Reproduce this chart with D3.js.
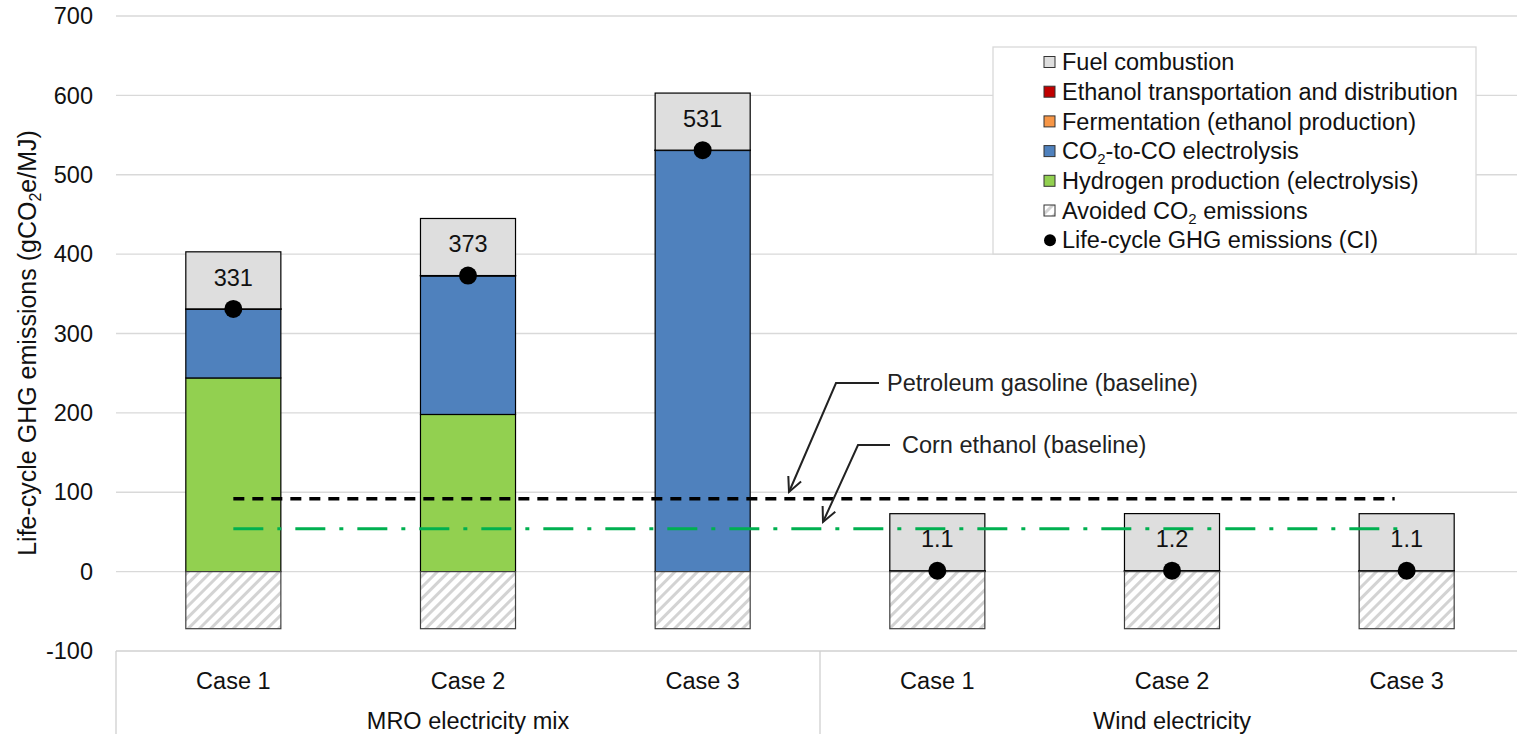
<!DOCTYPE html>
<html><head><meta charset="utf-8">
<script src="https://cdn.jsdelivr.net/npm/d3@7"></script>
<style>body{margin:0;background:#fff}svg{display:block;font-family:"Liberation Sans",Arial,sans-serif}</style>
</head><body><svg id="c" width="1517" height="734"></svg>
<script>
const categories = ["Case 1","Case 2","Case 3","Case 1","Case 2","Case 3"];
const groups = ["MRO electricity mix","Wind electricity"];
const hydrogen = [244, 198, 0, 0.4, 0.5, 0.4];
const co2co = [86.6, 174.6, 530.6, 0.3, 0.3, 0.3];
const fermentation = [0.2, 0.2, 0.2, 0.2, 0.2, 0.2];
const transport = [0.2, 0.2, 0.2, 0.2, 0.2, 0.2];
const fuel = [71.9, 71.9, 71.9, 71.9, 71.9, 71.9];
const avoided = [-71.9, -71.9, -71.9, -71.9, -71.9, -71.9];
const ci = [331, 373, 531, 1.1, 1.2, 1.1];
const ciLabels = ["331","373","531","1.1","1.2","1.1"];
const gasolineBaseline = 91.7;
const cornBaseline = 54;
const yTicks = [-100,0,100,200,300,400,500,600,700];
const seriesNames = ["Fuel combustion","Ethanol transportation and distribution","Fermentation (ethanol production)","CO2-to-CO electrolysis","Hydrogen production (electrolysis)","Avoided CO2 emissions","Life-cycle GHG emissions (CI)"];

const FS = 23.5;
const svg = d3.select("#c");
const defs = svg.append("defs");
const pat = defs.append("pattern").attr("id","hatch").attr("patternUnits","userSpaceOnUse")
  .attr("width",8).attr("height",8).attr("patternTransform","rotate(45)");
pat.append("rect").attr("width",8).attr("height",8).attr("fill","#fff");
pat.append("rect").attr("width",3).attr("height",8).attr("fill","#d3d3d3");

const left = 116, right = 1524;
const x = d3.scaleBand().domain(d3.range(categories.length)).range([left, right]).paddingInner(0.595).paddingOuter(0.2975);
const y = d3.scaleLinear().domain([-100, 700]).range([651, 16]);

// gridlines
svg.append("g").selectAll("line").data(yTicks.filter(t=>t>-100)).join("line")
  .attr("x1", left).attr("x2", 1517).attr("y1", d=>y(d)).attr("y2", d=>y(d))
  .attr("stroke","#d9d9d9").attr("stroke-width",1.3);

// y axis labels
svg.append("g").selectAll("text").data(yTicks).join("text")
  .attr("x", 93).attr("y", d=>y(d)).attr("dy","0.35em").attr("text-anchor","end")
  .attr("font-size",FS).attr("fill","#111").text(d=>d);

// y title
const yt = svg.append("text").attr("transform","translate(36,343) rotate(-90)")
  .attr("text-anchor","middle").attr("font-size",25).attr("fill","#111");
yt.append("tspan").text("Life-cycle GHG emissions (gCO");
yt.append("tspan").attr("font-size",16).attr("dy",5).text("2");
yt.append("tspan").attr("dy",-5).text("e/MJ)");

// category axis
const ax = svg.append("g").attr("stroke","#d0d0d0").attr("stroke-width",1.3);
ax.append("line").attr("x1",left).attr("x2",1517).attr("y1",y(-100)).attr("y2",y(-100));
[0,3].forEach(i=>{
  const xx = i===0 ? left : x(i) - x.step()*x.paddingInner()/2;
  ax.append("line").attr("x1",xx).attr("x2",xx).attr("y1",y(-100)).attr("y2",734);
});
svg.append("g").selectAll("text").data(categories).join("text")
  .attr("x",(d,i)=>x(i)+x.bandwidth()/2).attr("y",689).attr("text-anchor","middle")
  .attr("font-size",FS).attr("fill","#111").text(d=>d);
svg.append("g").selectAll("text").data(groups).join("text")
  .attr("x",(d,i)=>(x(i*3)+x(i*3+2)+x.bandwidth())/2).attr("y",729).attr("text-anchor","middle")
  .attr("font-size",FS).attr("fill","#111").text(d=>d);

// stacked bars
const stackDefs = [
  {vals: hydrogen, fill:"#92d050"},
  {vals: co2co, fill:"#4f81bd"},
  {vals: fermentation, fill:"#f79646"},
  {vals: transport, fill:"#c00000"},
  {vals: fuel, fill:"#dedede"}
];
const bars = svg.append("g");
categories.forEach((c,i)=>{
  let base = 0;
  stackDefs.forEach(s=>{
    const v = s.vals[i];
    if (v > 0) {
      bars.append("rect").attr("x",x(i)).attr("width",x.bandwidth())
        .attr("y",y(base+v)).attr("height",y(base)-y(base+v))
        .attr("fill",s.fill).attr("stroke","#000").attr("stroke-width",1.2);
    }
    base += v;
  });
  bars.append("rect").attr("x",x(i)).attr("width",x.bandwidth())
    .attr("y",y(0)).attr("height",y(avoided[i])-y(0))
    .attr("fill","url(#hatch)").attr("stroke","#404040").attr("stroke-width",1.2);
});

// baselines
svg.append("line").attr("x1",x(0)+x.bandwidth()/2).attr("x2",x(5)+x.bandwidth()/2-12)
  .attr("y1",y(gasolineBaseline)).attr("y2",y(gasolineBaseline))
  .attr("stroke","#000").attr("stroke-width",3.5).attr("stroke-dasharray","11,8");
svg.append("line").attr("x1",x(0)+x.bandwidth()/2).attr("x2",x(5)+x.bandwidth()/2+4)
  .attr("y1",y(cornBaseline)).attr("y2",y(cornBaseline))
  .attr("stroke","#00b050").attr("stroke-width",3).attr("stroke-dasharray","30,14,4,14");

// CI dots and labels
svg.append("g").selectAll("circle").data(ci).join("circle")
  .attr("cx",(d,i)=>x(i)+x.bandwidth()/2).attr("cy",d=>y(d)).attr("r",9).attr("fill","#000");
svg.append("g").selectAll("text").data(ciLabels).join("text")
  .attr("x",(d,i)=>x(i)+x.bandwidth()/2)
  .attr("y",(d,i)=>{const top=hydrogen[i]+co2co[i]+fermentation[i]+transport[i]; return (y(top)+y(top+fuel[i]))/2 - 3;})
  .attr("dy","0.35em").attr("text-anchor","middle").attr("font-size",FS).attr("fill","#111").text(d=>d);

// annotations
function arrow(pts){
  svg.append("polyline").attr("points",pts.map(p=>p.join(",")).join(" "))
    .attr("fill","none").attr("stroke","#222").attr("stroke-width",2);
  const a = pts[pts.length-2], b = pts[pts.length-1];
  const ang = Math.atan2(b[1]-a[1], b[0]-a[0]);
  const L = 16, w = 0.45;
  const p1 = [b[0]-L*Math.cos(ang-w), b[1]-L*Math.sin(ang-w)];
  const p2 = [b[0]-L*Math.cos(ang+w), b[1]-L*Math.sin(ang+w)];
  svg.append("polyline").attr("points",[p1,b,p2].map(p=>p.join(",")).join(" "))
    .attr("fill","none").attr("stroke","#222").attr("stroke-width",2);
}
arrow([[879,383],[836,383],[789,492]]);
arrow([[890,445],[858,445],[823,522]]);
svg.append("text").attr("x",887).attr("y",383).attr("dy","0.35em").attr("font-size",FS).attr("fill","#222").text("Petroleum gasoline (baseline)");
svg.append("text").attr("x",902).attr("y",445).attr("dy","0.35em").attr("font-size",FS).attr("fill","#222").text("Corn ethanol (baseline)");

// legend
const lg = svg.append("g");
lg.append("rect").attr("x",993).attr("y",47).attr("width",483).attr("height",207)
  .attr("fill","#fff").attr("stroke","#d9d9d9").attr("stroke-width",1.3);
const legFills = ["#dedede","#c00000","#f79646","#4f81bd","#92d050","url(#hatch)",null];
seriesNames.forEach((n,i)=>{
  const cy = 62 + i*29.7;
  if (legFills[i]) {
    lg.append("rect").attr("x",1044).attr("y",cy-5.5).attr("width",11).attr("height",11)
      .attr("fill",legFills[i]).attr("stroke","#333").attr("stroke-width",1);
  } else {
    lg.append("circle").attr("cx",1050).attr("cy",cy).attr("r",6).attr("fill","#000");
  }
  const t = lg.append("text").attr("x",1062).attr("y",cy).attr("dy","0.35em").attr("font-size",FS).attr("fill","#111");
  const parts = n.split("CO2");
  parts.forEach((p,k)=>{
    if (k>0){ t.append("tspan").text("CO"); t.append("tspan").attr("font-size",15).attr("dy",5).text("2"); t.append("tspan").attr("dy",-5).text(p); }
    else t.append("tspan").text(p);
  });
});
</script></body></html>
